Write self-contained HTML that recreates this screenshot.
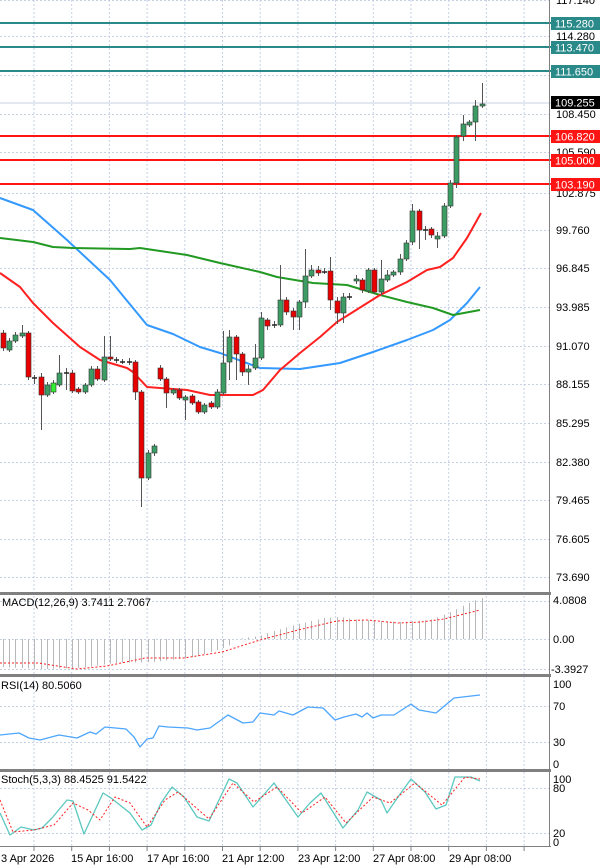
<!DOCTYPE html><html><head><meta charset="utf-8"><style>
html,body{margin:0;padding:0;background:#fff;}
svg{display:block;font-family:"Liberation Sans",sans-serif;}
</style></head><body>
<svg id="s" width="600" height="866" viewBox="0 0 600 866" xmlns="http://www.w3.org/2000/svg">
<rect width="600" height="866" fill="#fff"/>
<g id="grid" stroke="#c6d2e4" stroke-width="1" stroke-dasharray="2,2"></g>
<g id="plot"></g>
<!-- panel separators -->
<rect x="0" y="592" width="551" height="3" fill="#808080"/>
<rect x="0" y="674" width="551" height="3" fill="#808080"/>
<rect x="0" y="769" width="551" height="3" fill="#808080"/>
<line x1="0" y1="846.5" x2="551" y2="846.5" stroke="#808080"/>
<line x1="549.5" y1="0" x2="549.5" y2="847" stroke="#808080"/>
<g font-size="11" fill="#000">
<text x="556" y="4">117.140</text>
<text x="556" y="40">114.280</text>
<text x="556" y="118">108.450</text>
<text x="556" y="156">105.590</text>
<text x="556" y="197">102.875</text>
<text x="556" y="234">99.760</text>
<text x="556" y="272">96.845</text>
<text x="556" y="311">93.985</text>
<text x="556" y="350">91.070</text>
<text x="556" y="388">88.155</text>
<text x="556" y="427">85.295</text>
<text x="556" y="466">82.380</text>
<text x="556" y="504">79.465</text>
<text x="556" y="543">76.605</text>
<text x="556" y="581">73.690</text>
</g>
<g font-size="11">
<rect x="551" y="17" width="49" height="13" fill="#2a8a8a"/><text x="555" y="27.5" fill="#fff">115.280</text>
<rect x="551" y="41" width="49" height="13" fill="#2a8a8a"/><text x="555" y="51.5" fill="#fff">113.470</text>
<rect x="551" y="65" width="49" height="13" fill="#2a8a8a"/><text x="555" y="75.5" fill="#fff">111.650</text>
<rect x="551" y="96" width="49" height="13" fill="#000"/><text x="555" y="106.5" fill="#fff">109.255</text>
<rect x="551" y="130" width="49" height="13" fill="#ff1414"/><text x="555" y="140.5" fill="#fff">106.820</text>
<rect x="551" y="154" width="49" height="13" fill="#ff1414"/><text x="555" y="164.5" fill="#fff">105.000</text>
<rect x="551" y="178" width="49" height="13" fill="#ff1414"/><text x="555" y="188.5" fill="#fff">103.190</text>
</g>
<g font-size="11" fill="#000">
<text x="2" y="606">MACD(12,26,9) 3.7411 2.7067</text>
<text x="553" y="604">4.0808</text>
<text x="553" y="643">0.00</text>
<text x="551" y="673">-3.3927</text>
<text x="1" y="689">RSI(14) 80.5060</text>
<text x="553" y="688">100</text>
<text x="553" y="710">70</text>
<text x="553" y="746">30</text>
<text x="553" y="768">0</text>
<text x="1" y="783">Stoch(5,3,3) 88.4525 91.5422</text>
<text x="553" y="783">100</text>
<text x="553" y="792">80</text>
<text x="553" y="837">20</text>
<text x="553" y="846">0</text>
<text x="1" y="862">3 Apr 2026</text>
<text x="71" y="862">15 Apr 16:00</text>
<text x="147" y="862">17 Apr 16:00</text>
<text x="222" y="862">21 Apr 12:00</text>
<text x="298" y="862">23 Apr 12:00</text>
<text x="373" y="862">27 Apr 08:00</text>
<text x="449" y="862">29 Apr 08:00</text>
</g>
</svg>
<script>
const NS="http://www.w3.org/2000/svg";
function el(p,t,a){const e=document.createElementNS(NS,t);for(const k in a)e.setAttribute(k,a[k]);p.appendChild(e);return e;}
const g=document.getElementById('grid'),P=document.getElementById('plot');
// vertical grid
for(let i=0;i<14;i++){const x=34+37.7*i;el(g,'line',{x1:x,y1:0,x2:x,y2:846});
 el(P,'line',{x1:x,y1:847,x2:x,y2:851,stroke:'#808080'});}
[0,36,75,114,152,193,230,268,307,346,384,423,462,500,539,577].forEach(y=>el(g,'line',{x1:0,y1:y+.5,x2:549,y2:y+.5}));
[601,639,669,706,742,788,833].forEach(y=>el(g,'line',{x1:0,y1:y+.5,x2:549,y2:y+.5}));
// horizontal levels
[[23,'#2a8a8a'],[47,'#2a8a8a'],[71,'#2a8a8a']].forEach(([y,c])=>el(P,'line',{x1:0,y1:y,x2:551,y2:y,stroke:c,'stroke-width':2}));
el(P,'line',{x1:0,y1:103,x2:551,y2:103,stroke:'#c8d0e0','stroke-width':1});
[136,160,184].forEach(y=>el(P,'line',{x1:0,y1:y,x2:551,y2:y,stroke:'#ff1414','stroke-width':2}));
function line(pts,c,w,d){el(P,'polyline',{points:pts.map(p=>p.join(',')).join(' '),fill:'none',stroke:c,'stroke-width':w,'stroke-dasharray':d||'none','stroke-linejoin':'round'});}
// MAs
line([[0,198],[33,210],[67,240],[110,280],[147,325],[173,334],[200,347],[220,353],[260,368],[300,369],[340,363],[373,352],[407,340],[433,330],[450,320],[467,303],[480,287]],'#3399ff',2);
line([[0,238],[33,242],[53,247],[73,248],[130,249],[140,248],[187,255],[220,263],[260,272],[277,277],[313,283],[347,285],[380,295],[407,302],[433,308],[453,315],[480,310]],'#229922',2);
line([[0,273],[20,287],[33,303],[53,323],[80,347],[100,360],[127,368],[133,372],[147,387],[160,388],[187,390],[210,395],[253,395],[263,390],[280,370],[300,353],[320,337],[337,322],[353,312],[380,295],[407,282],[427,270],[440,267],[453,258],[467,238],[481,213]],'#ff2020',2);
// candles: [open_y, close_y, high_y, low_y]
const C=[[333,348,330,351],[350,341,338,352],[341,335,332,343],[336,333,325,338],[333,377,331,380],[378,378,375,384],[377,395,373,430],[395,385,382,397],[392,383,380,394],[385,373,355,387],[373,373,368,390],[373,391,370,393],[389,392,387,394],[392,385,383,394],[385,369,366,387],[369,379,366,381],[380,357,336,382],[357,359,336,361],[360,360,357,363],[362,362,359,364],[362,362,358,365],[362,392,360,400],[392,478,390,507],[478,453,450,480],[453,446,444,456],[368,379,365,381],[379,393,377,408],[393,390,388,395],[390,398,388,400],[400,397,395,420],[396,403,394,405],[402,412,400,414],[412,405,403,414],[403,407,401,409],[407,392,389,409],[393,363,331,395],[362,337,330,380],[337,354,335,380],[354,372,352,376],[372,369,365,385],[368,358,344,370],[358,318,312,360],[320,326,318,330],[325,325,321,328],[325,300,265,327],[300,312,297,315],[311,317,308,330],[317,302,300,330],[302,276,249,308],[276,270,265,278],[270,273,266,276],[272,272,268,274],[271,300,257,310],[301,313,297,324],[313,297,293,323],[297,297,293,300],[281,279,275,284],[280,290,278,293],[291,270,268,293],[270,292,268,294],[292,279,260,295],[280,275,270,282],[275,272,270,277],[272,259,254,275],[259,243,240,261],[242,211,204,245],[211,230,209,249],[230,230,226,240],[229,235,227,238],[239,236,232,248],[236,206,203,238],[206,183,180,208],[183,137,135,188],[136,124,115,141],[125,122,120,127],[122,106,100,141],[106,104,83,108]];
C.forEach((c,i)=>{const x=Math.round(2.7+6.3*i)+.5;const [o,cl,h,l]=c;
 el(P,'line',{x1:x,y1:h,x2:x,y2:l,stroke:'#555','stroke-width':1});
 const top=Math.min(o,cl),ht=Math.max(Math.abs(o-cl),1.5);
 const bull=cl<o,doji=o===cl;
 if(doji){el(P,'line',{x1:x-2.5,y1:o,x2:x+2.5,y2:o,stroke:'#222','stroke-width':1.5});return;}
 el(P,'rect',{x:x-2.5,y:top,width:5,height:ht,fill:bull?(i===8?'#33ee33':'#3c9c64'):'#e80000',stroke:'#333','stroke-width':.6});
});
// MACD histogram
function macdH(x){const pts=[[0,667],[40,669],[80,668],[115,663],[153,662],[190,658],[215,651],[229,646],[235,639],[260,636],[268,633],[298,624],[325,618],[340,617],[360,620],[400,622],[430,620],[449,613],[465,605],[481,598]];
 for(let i=1;i<pts.length;i++)if(x<=pts[i][0]){const [a,b]=[pts[i-1],pts[i]];return a[1]+(b[1]-a[1])*(x-a[0])/(b[0]-a[0]);}return 598;}
for(let i=0;i<77;i++){const x=Math.round(2.7+6.3*i)+.5;el(P,'line',{x1:x,y1:639,x2:x,y2:macdH(x),stroke:'#b8b8b8','stroke-width':1});}
line([[0,663],[38,663],[77,669],[107,666],[145,658],[184,658],[222,652],[260,640],[298,630],[337,621],[367,620],[398,623],[421,622],[444,619],[480,610]],'#ff2020',1,'2,2');
// RSI
line([[0,735],[19,733],[29,738],[40,740],[59,735],[77,738],[90,732],[96,734],[105,727],[126,729],[134,737],[140,747],[147,739],[153,738],[159,726],[168,727],[188,728],[197,730],[210,728],[228,715],[243,723],[253,722],[260,713],[274,715],[279,711],[293,715],[308,707],[323,708],[335,720],[344,717],[356,714],[362,717],[367,713],[373,718],[381,715],[394,715],[411,704],[419,710],[436,713],[454,698],[480,695]],'#4da6ff',1.3);
// Stoch
line([[0,813],[10,835],[21,827],[34,830],[42,828],[52,818],[67,800],[73,801],[84,834],[103,793],[111,798],[130,813],[142,830],[151,825],[161,803],[172,787],[184,797],[197,817],[209,821],[229,779],[237,783],[253,807],[274,783],[298,817],[310,803],[321,793],[343,828],[358,810],[367,792],[381,800],[387,813],[398,797],[411,779],[425,792],[436,809],[446,805],[455,777],[471,777],[480,781]],'#5cc8c0',1.3);
line([[0,800],[13,832],[34,830],[54,825],[73,803],[88,810],[100,820],[115,797],[130,803],[147,827],[165,800],[178,792],[209,819],[233,783],[254,802],[277,787],[302,813],[325,797],[346,823],[373,797],[390,803],[415,783],[442,805],[465,777],[480,779]],'#ff2020',1,'2,2');
</script>
</body></html>
